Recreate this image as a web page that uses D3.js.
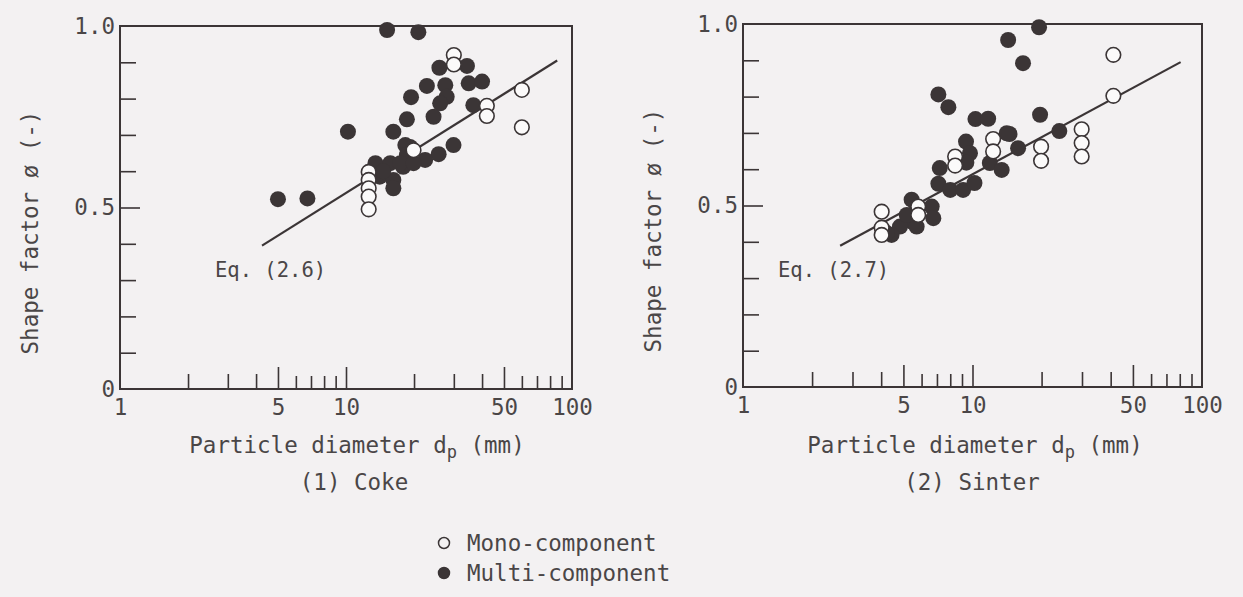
<!DOCTYPE html>
<html>
<head>
<meta charset="utf-8">
<script src="https://cdn.jsdelivr.net/npm/d3@7"></script>
<style>
  html, body { margin: 0; padding: 0; background: #f3f1f2; }
  svg { display: block; }
  text { font-family: "DejaVu Sans Mono", "Liberation Mono", monospace; fill: #4a4647; }
</style>
</head>
<body>
<div id="chart"></div>
<script>
// Coke: [particle diameter mm, shape factor]
const cokeMono = [
  [12.6, 0.598], [12.6, 0.576], [12.6, 0.553], [12.6, 0.530], [12.6, 0.495],
  [19.9, 0.658], [30, 0.920], [30, 0.894], [42, 0.780], [42, 0.752],
  [60, 0.824], [60, 0.721]
];
const cokeMulti = [
  [15.2, 0.989], [20.9, 0.983], [25.9, 0.885], [34.3, 0.890], [22.8, 0.835],
  [27.5, 0.837], [27.9, 0.805], [26.1, 0.787], [34.9, 0.842], [40.0, 0.847],
  [19.4, 0.804], [24.4, 0.750], [36.6, 0.782], [18.6, 0.743], [16.2, 0.709],
  [10.2, 0.709], [29.9, 0.672], [25.7, 0.647], [22.4, 0.631], [19.2, 0.667],
  [18.3, 0.672], [18.6, 0.645], [13.5, 0.622], [15.7, 0.622], [17.9, 0.612],
  [14.1, 0.585], [16.2, 0.576], [16.2, 0.553], [17.4, 0.622], [19.9, 0.622],
  [14.6, 0.600], [5.0, 0.523], [6.75, 0.525]
];
const cokeLineD = [4.25, 86];
const cokeLinePhi = [0.395, 0.905];

// Sinter
const sinterMono = [
  [41.1, 0.915], [41.1, 0.802], [29.9, 0.710], [29.9, 0.672], [29.9, 0.635],
  [19.9, 0.662], [19.9, 0.623], [12.3, 0.683], [12.3, 0.649], [8.4, 0.635],
  [8.4, 0.610], [5.8, 0.497], [5.8, 0.474], [4.02, 0.483], [4.02, 0.439],
  [4.02, 0.419]
];
const sinterMulti = [
  [19.5, 0.991], [14.3, 0.956], [16.6, 0.892], [7.1, 0.806], [7.85, 0.771],
  [10.3, 0.738], [11.7, 0.739], [19.7, 0.750], [23.9, 0.705], [14.5, 0.697],
  [14.1, 0.699], [15.8, 0.658], [9.37, 0.676], [9.75, 0.644], [9.4, 0.618],
  [7.2, 0.603], [11.9, 0.617], [13.4, 0.598], [7.1, 0.560], [8.0, 0.543],
  [9.1, 0.543], [10.2, 0.562], [5.43, 0.516], [6.64, 0.497], [6.75, 0.465],
  [5.43, 0.456], [5.71, 0.442], [4.83, 0.442], [4.44, 0.419], [4.23, 0.424],
  [5.17, 0.474]
];
const sinterLineD = [2.65, 80.7];
const sinterLinePhi = [0.389, 0.895];

const xMinorTicks = [2, 3, 4, 5, 6, 7, 8, 9, 10, 20, 30, 40, 50, 60, 70, 80, 90];
const xMajorTicks = [5, 10, 50];
const xLabels = [1, 5, 10, 50, 100];
const yTicks = [0.1, 0.2, 0.3, 0.4, 0.5, 0.6, 0.7, 0.8, 0.9];
const yLabels = [0, 0.5, 1.0];

const W = 1243, H = 597;
const INK = '#3b3536';

const svg = d3.select('#chart').append('svg')
  .attr('width', W)
  .attr('height', H);

svg.append('rect').attr('width', W).attr('height', H).attr('fill', '#f3f1f2');

const panels = [
  { left: 120, right: 572, top: 26, bottom: 389, mono: cokeMono, multi: cokeMulti,
    lineD: cokeLineD, linePhi: cokeLinePhi, eq: 'Eq. (2.6)', eqX: 215, eqY: 270,
    title: '(1) Coke', labelCx: 357 },
  { left: 743, right: 1202, top: 24, bottom: 387, mono: sinterMono, multi: sinterMulti,
    lineD: sinterLineD, linePhi: sinterLinePhi, eq: 'Eq. (2.7)', eqX: 778, eqY: 270,
    title: '(2) Sinter', labelCx: 975 }
];

panels.forEach(p => {
  const x = d3.scaleLog().domain([1, 100]).range([p.left, p.right]);
  const y = d3.scaleLinear().domain([0, 1]).range([p.bottom, p.top]);
  const g = svg.append('g');

  // x ticks pointing up from the bottom frame
  const xAxis = g.append('g')
    .attr('transform', `translate(0,${p.bottom})`)
    .call(d3.axisBottom(x).tickValues(xMinorTicks).tickSize(-14).tickFormat(''));
  xAxis.select('.domain').remove();
  xAxis.selectAll('.tick line')
    .attr('stroke', INK)
    .attr('stroke-width', 1.6)
    .attr('y2', d => xMajorTicks.includes(d) ? -22 : (d < 5 || (d > 10 && d < 50) ? -15 : -13));

  const xLab = g.append('g')
    .attr('transform', `translate(0,${p.bottom})`)
    .call(d3.axisBottom(x).tickValues(xLabels).tickSize(0).tickPadding(10).tickFormat(d3.format('d')));
  xLab.select('.domain').remove();
  xLab.selectAll('text').attr('font-size', 22.5).attr('fill', '#4a4647');

  // y ticks pointing right from the left frame
  const yAxis = g.append('g')
    .attr('transform', `translate(${p.left},0)`)
    .call(d3.axisLeft(y).tickValues(yTicks).tickSize(-16).tickFormat(''));
  yAxis.select('.domain').remove();
  yAxis.selectAll('.tick line')
    .attr('stroke', INK)
    .attr('stroke-width', 1.6)
    .attr('x2', d => d === 0.5 ? 20 : 16);

  const yLab = g.append('g')
    .attr('transform', `translate(${p.left},0)`)
    .call(d3.axisLeft(y).tickValues(yLabels).tickSize(0).tickPadding(5)
      .tickFormat(d => d === 0 ? '0' : d3.format('.1f')(d)));
  yLab.select('.domain').remove();
  yLab.selectAll('text').attr('font-size', 22.5).attr('fill', '#4a4647');

  // frame
  g.append('rect')
    .attr('x', p.left).attr('y', p.top)
    .attr('width', p.right - p.left).attr('height', p.bottom - p.top)
    .attr('fill', 'none')
    .attr('stroke', INK)
    .attr('stroke-width', 2);

  // regression line
  g.append('line')
    .attr('x1', x(p.lineD[0])).attr('y1', y(p.linePhi[0]))
    .attr('x2', x(p.lineD[1])).attr('y2', y(p.linePhi[1]))
    .attr('stroke', INK)
    .attr('stroke-width', 2.2);

  g.selectAll('.multi')
    .data(p.multi)
    .enter()
    .append('circle')
    .attr('class', 'multi')
    .attr('cx', d => x(d[0]))
    .attr('cy', d => y(d[1]))
    .attr('r', 8)
    .attr('fill', INK);

  g.selectAll('.mono')
    .data(p.mono)
    .enter()
    .append('circle')
    .attr('class', 'mono')
    .attr('cx', d => x(d[0]))
    .attr('cy', d => y(d[1]))
    .attr('r', 7.3)
    .attr('fill', '#fbfafa')
    .attr('stroke', INK)
    .attr('stroke-width', 1.6);

  g.append('text')
    .attr('x', p.eqX).attr('y', p.eqY)
    .attr('dy', '0.35em')
    .attr('font-size', 20.5)
    .text(p.eq);

  // y axis label
  g.append('text')
    .attr('transform', `translate(${p.left - 90},${(p.top + p.bottom) / 2 + 25}) rotate(-90)`)
    .attr('text-anchor', 'middle')
    .attr('dy', '0.35em')
    .attr('font-size', 22.5)
    .text('Shape factor ø (-)');

  // x axis label with subscript
  const xl = g.append('text')
    .attr('x', p.labelCx).attr('y', 445)
    .attr('text-anchor', 'middle')
    .attr('dy', '0.35em')
    .attr('font-size', 22.5);
  xl.append('tspan').text('Particle diameter d');
  xl.append('tspan').attr('baseline-shift', '-30%').attr('font-size', 17).text('p');
  xl.append('tspan').text(' (mm)');

  g.append('text')
    .attr('x', p.labelCx - 3).attr('y', 482)
    .attr('text-anchor', 'middle')
    .attr('dy', '0.35em')
    .attr('font-size', 22.5)
    .text(p.title);
});

// legend
const legend = [
  { label: 'Mono-component', filled: false, y: 543 },
  { label: 'Multi-component', filled: true, y: 573 }
];
const lg = svg.append('g');
lg.selectAll('circle')
  .data(legend)
  .enter()
  .append('circle')
  .attr('cx', 444)
  .attr('cy', d => d.y)
  .attr('r', 5.5)
  .attr('fill', d => d.filled ? INK : 'none')
  .attr('stroke', INK)
  .attr('stroke-width', 1.5);
lg.selectAll('text')
  .data(legend)
  .enter()
  .append('text')
  .attr('x', 467)
  .attr('y', d => d.y)
  .attr('dy', '0.35em')
  .attr('font-size', 22.5)
  .text(d => d.label);
</script>
</body>
</html>
